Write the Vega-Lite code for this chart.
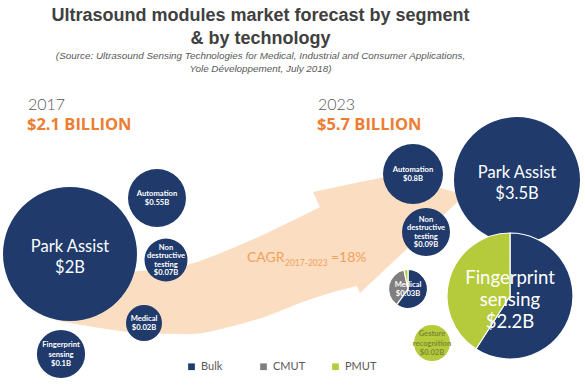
{
  "$schema": "https://vega.github.io/schema/vega-lite/v6.json",
  "width": 585,
  "height": 305,
  "padding": {"top": 7, "left": 0, "right": 0, "bottom": 0},
  "autosize": {"type": "pad"},
  "background": "white",
  "title": {
    "text": ["Ultrasound modules market forecast by segment", "& by technology"],
    "subtitle": ["(Source: Ultrasound Sensing Technologies for Medical, Industrial and Consumer Applications,", "Yole Développement, July 2018)"],
    "anchor": "middle",
    "frame": "group",
    "dx": -32,
    "font": "Liberation Sans",
    "fontSize": 18,
    "fontWeight": "bold",
    "color": "#404040",
    "lineHeight": 23,
    "subtitleFont": "Liberation Sans",
    "subtitleFontSize": 9.9,
    "subtitleFontStyle": "italic",
    "subtitleColor": "#595959",
    "subtitleLineHeight": 13,
    "subtitlePadding": 3,
    "offset": 6
  },
  "config": {"view": {"stroke": null}},
  "datasets": {
    "bubbles": [
      {"id": "pa17", "year": 2017, "segment": "Park Assist", "value": 2, "cx": 70, "cy": 254, "label": "Park Assist\n$2B"},
      {"id": "au17", "year": 2017, "segment": "Automation", "value": 0.55, "cx": 157, "cy": 198, "label": "Automation\n$0.55B"},
      {"id": "nd17", "year": 2017, "segment": "Non destructive testing", "value": 0.07, "cx": 166, "cy": 260, "label": "Non\ndestructive\ntesting\n$0.07B"},
      {"id": "me17", "year": 2017, "segment": "Medical", "value": 0.02, "cx": 144, "cy": 323, "label": "Medical\n$0.02B"},
      {"id": "fp17", "year": 2017, "segment": "Fingerprint sensing", "value": 0.1, "cx": 61, "cy": 354, "label": "Fingerprint\nsensing\n$0.1B"},
      {"id": "au23", "year": 2023, "segment": "Automation", "value": 0.8, "cx": 413, "cy": 174, "label": "Automation\n$0.8B"},
      {"id": "pa23", "year": 2023, "segment": "Park Assist", "value": 3.5, "cx": 517, "cy": 180, "label": "Park Assist\n$3.5B"},
      {"id": "nd23", "year": 2023, "segment": "Non destructive testing", "value": 0.09, "cx": 426, "cy": 232, "label": "Non\ndestructive\ntesting\n$0.09B"},
      {"id": "me23", "year": 2023, "segment": "Medical", "value": 0.03, "cx": 408, "cy": 289, "label": "Medical\n$0.03B"},
      {"id": "fp23", "year": 2023, "segment": "Fingerprint sensing", "value": 2.2, "cx": 510, "cy": 296, "label": "Fingerprint\nsensing\n$2.2B"},
      {"id": "ge23", "year": 2023, "segment": "Gesture recognition", "value": 0.02, "cx": 432, "cy": 343, "label": "Gesture\nrecognition\n$0.02B"}
    ],
    "slices": [
      {"id": "pa17", "tech": "Bulk", "amount": 2},
      {"id": "au17", "tech": "Bulk", "amount": 0.55},
      {"id": "nd17", "tech": "Bulk", "amount": 0.07},
      {"id": "me17", "tech": "Bulk", "amount": 0.02},
      {"id": "fp17", "tech": "Bulk", "amount": 0.1},
      {"id": "au23", "tech": "Bulk", "amount": 0.8},
      {"id": "pa23", "tech": "Bulk", "amount": 3.5},
      {"id": "nd23", "tech": "Bulk", "amount": 0.09},
      {"id": "me23", "tech": "Bulk", "amount": 0.018},
      {"id": "me23", "tech": "CMUT", "amount": 0.011},
      {"id": "me23", "tech": "PMUT", "amount": 0.001},
      {"id": "fp23", "tech": "Bulk", "amount": 1.3},
      {"id": "fp23", "tech": "PMUT", "amount": 0.9},
      {"id": "ge23", "tech": "PMUT", "amount": 0.02}
    ],
    "arrow": [
      {"part": "shaft", "x": 55, "top": 286, "bottom": 320},
      {"part": "shaft", "x": 100, "top": 274, "bottom": 328},
      {"part": "shaft", "x": 140, "top": 271, "bottom": 333},
      {"part": "shaft", "x": 190, "top": 264, "bottom": 334},
      {"part": "shaft", "x": 233, "top": 248, "bottom": 326},
      {"part": "shaft", "x": 267, "top": 233, "bottom": 316},
      {"part": "shaft", "x": 300, "top": 217, "bottom": 303},
      {"part": "shaft", "x": 330, "top": 202, "bottom": 293},
      {"part": "shaft", "x": 357, "top": 190, "bottom": 286},
      {"part": "head", "x": 313, "top": 192, "bottom": 192},
      {"part": "head", "x": 360, "top": 182, "bottom": 293},
      {"part": "head", "x": 395, "top": 175, "bottom": 260},
      {"part": "head", "x": 465, "top": 195, "bottom": 195}
    ],
    "notes": [
      {"role": "year", "text": "2017", "x": 28, "y": 110},
      {"role": "year", "text": "2023", "x": 318, "y": 110},
      {"role": "total", "text": "$2.1 BILLION", "x": 27, "y": 130},
      {"role": "total", "text": "$5.7 BILLION", "x": 317, "y": 130},
      {"role": "cagr", "text": "CAGR", "x": 247, "y": 262},
      {"role": "sub", "text": "2017-2023", "x": 285, "y": 266},
      {"role": "cagr", "text": "=18%", "x": 331, "y": 262}
    ]
  },
  "layer": [
    {
      "data": {"name": "arrow"},
      "transform": [{"filter": "datum.part === 'shaft'"}],
      "mark": {"type": "area", "color": "#FBDDC2", "interpolate": "monotone"},
      "encoding": {
        "x": {"field": "x", "type": "quantitative", "scale": {"domain": [0, 585], "nice": false, "zero": false}, "axis": null},
        "y": {"field": "top", "type": "quantitative", "scale": {"domain": [80, 385], "reverse": true, "nice": false, "zero": false}, "axis": null},
        "y2": {"field": "bottom"}
      }
    },
    {
      "data": {"name": "arrow"},
      "transform": [{"filter": "datum.part === 'head'"}],
      "mark": {"type": "area", "color": "#FBDDC2"},
      "encoding": {
        "x": {"field": "x", "type": "quantitative", "axis": null},
        "y": {"field": "top", "type": "quantitative", "axis": null},
        "y2": {"field": "bottom"}
      }
    },
    {
      "data": {"name": "slices"},
      "transform": [
        {"lookup": "id", "from": {"data": {"name": "bubbles"}, "key": "id", "fields": ["cx", "cy", "value"]}},
        {"stack": "amount", "groupby": ["id"], "offset": "normalize", "sort": [{"field": "tech", "order": "ascending"}], "as": ["t0", "t1"]}
      ],
      "mark": {"type": "arc", "stroke": "white"},
      "encoding": {
        "x": {"field": "cx", "type": "quantitative", "axis": null},
        "y": {"field": "cy", "type": "quantitative", "axis": null},
        "theta": {"field": "t0", "type": "quantitative", "stack": null, "scale": {"domain": [0, 1], "range": [0, 6.283185]}},
        "theta2": {"field": "t1"},
        "radius": {"field": "value", "type": "quantitative", "scale": {"type": "linear", "domain": [0, 0.02, 0.03, 0.07, 0.09, 0.55, 0.8, 2, 2.2, 3.5], "range": [0, 18, 19.5, 21.5, 24, 29, 30, 67, 63, 63]}, "legend": null},
        "strokeWidth": {"condition": {"test": "datum.t1 - datum.t0 < 0.999", "value": 1.2}, "value": 0},
        "color": {
          "field": "tech", "type": "nominal",
          "scale": {"domain": ["Bulk", "CMUT", "PMUT"], "range": ["#1F3A6B", "#7F7F7F", "#B5CB3C"]},
          "legend": {
            "title": null, "orient": "none", "legendX": 186, "legendY": 281, "direction": "horizontal",
            "symbolType": "square", "symbolSize": 45, "symbolStrokeWidth": 0,
            "labelFont": "Lato", "labelFontSize": 11, "labelColor": "#595959",
            "columnPadding": 24, "gridAlign": "all"
          }
        }
      }
    },
    {
      "data": {"name": "bubbles"},
      "transform": [{"filter": "datum.value < 1 && length(split(datum.label, '\\n')) === 2"}],
      "mark": {"type": "text", "lineBreak": "\n", "font": "Lato", "fontWeight": "bold", "fontSize": 7.6, "lineHeight": 9.5, "align": "center", "baseline": "middle", "dy": -4.5},
      "encoding": {
        "x": {"field": "cx", "type": "quantitative", "axis": null},
        "y": {"field": "cy", "type": "quantitative", "axis": null},
        "text": {"field": "label"},
        "color": {"value": "white"}
      }
    },
    {
      "data": {"name": "bubbles"},
      "transform": [{"filter": "datum.value < 1 && length(split(datum.label, '\\n')) === 3"}],
      "mark": {"type": "text", "lineBreak": "\n", "font": "Lato", "fontWeight": "bold", "fontSize": 7.6, "lineHeight": 9.5, "align": "center", "baseline": "middle", "dy": -9},
      "encoding": {
        "x": {"field": "cx", "type": "quantitative", "axis": null},
        "y": {"field": "cy", "type": "quantitative", "axis": null},
        "text": {"field": "label"},
        "color": {"condition": {"test": "datum.id === 'ge23'", "value": "#7A8A35"}, "value": "white"}
      }
    },
    {
      "data": {"name": "bubbles"},
      "transform": [{"filter": "datum.value < 1 && length(split(datum.label, '\\n')) === 4"}],
      "mark": {"type": "text", "lineBreak": "\n", "font": "Lato", "fontWeight": "bold", "fontSize": 7.6, "lineHeight": 8.5, "align": "center", "baseline": "middle", "dy": -12.5},
      "encoding": {
        "x": {"field": "cx", "type": "quantitative", "axis": null},
        "y": {"field": "cy", "type": "quantitative", "axis": null},
        "text": {"field": "label"},
        "color": {"value": "white"}
      }
    },
    {
      "data": {"name": "bubbles"},
      "transform": [{"filter": "datum.value >= 1 && length(split(datum.label, '\\n')) === 2"}],
      "mark": {"type": "text", "lineBreak": "\n", "font": "Lato", "fontSize": 16.5, "lineHeight": 21, "align": "center", "baseline": "middle", "color": "white", "dy": -7.5},
      "encoding": {
        "x": {"field": "cx", "type": "quantitative", "axis": null},
        "y": {"field": "cy", "type": "quantitative", "axis": null},
        "text": {"field": "label"}
      }
    },
    {
      "data": {"name": "bubbles"},
      "transform": [{"filter": "datum.value >= 1 && length(split(datum.label, '\\n')) === 3"}],
      "mark": {"type": "text", "lineBreak": "\n", "font": "Lato", "fontSize": 18.5, "lineHeight": 22, "align": "center", "baseline": "middle", "color": "white", "dy": -18},
      "encoding": {
        "x": {"field": "cx", "type": "quantitative", "axis": null},
        "y": {"field": "cy", "type": "quantitative", "axis": null},
        "text": {"field": "label"}
      }
    },
    {
      "data": {"name": "notes"},
      "transform": [{"filter": "datum.role === 'year'"}],
      "mark": {"type": "text", "font": "Lato", "fontWeight": 300, "fontSize": 16, "align": "left", "baseline": "alphabetic", "color": "#595959"},
      "encoding": {
        "x": {"field": "x", "type": "quantitative", "axis": null},
        "y": {"field": "y", "type": "quantitative", "axis": null},
        "text": {"field": "text"}
      }
    },
    {
      "data": {"name": "notes"},
      "transform": [{"filter": "datum.role === 'total'"}],
      "mark": {"type": "text", "font": "Open Sans", "fontWeight": "bold", "fontSize": 16.5, "align": "left", "baseline": "alphabetic", "color": "#ED7D31"},
      "encoding": {
        "x": {"field": "x", "type": "quantitative", "axis": null},
        "y": {"field": "y", "type": "quantitative", "axis": null},
        "text": {"field": "text"}
      }
    },
    {
      "data": {"name": "notes"},
      "transform": [{"filter": "datum.role === 'cagr'"}],
      "mark": {"type": "text", "font": "Lato", "fontSize": 14, "align": "left", "baseline": "alphabetic", "color": "#EFA25B"},
      "encoding": {
        "x": {"field": "x", "type": "quantitative", "axis": null},
        "y": {"field": "y", "type": "quantitative", "axis": null},
        "text": {"field": "text"}
      }
    },
    {
      "data": {"name": "notes"},
      "transform": [{"filter": "datum.role === 'sub'"}],
      "mark": {"type": "text", "font": "Lato", "fontSize": 8.5, "align": "left", "baseline": "alphabetic", "color": "#EFA25B"},
      "encoding": {
        "x": {"field": "x", "type": "quantitative", "axis": null},
        "y": {"field": "y", "type": "quantitative", "axis": null},
        "text": {"field": "text"}
      }
    }
  ]
}
